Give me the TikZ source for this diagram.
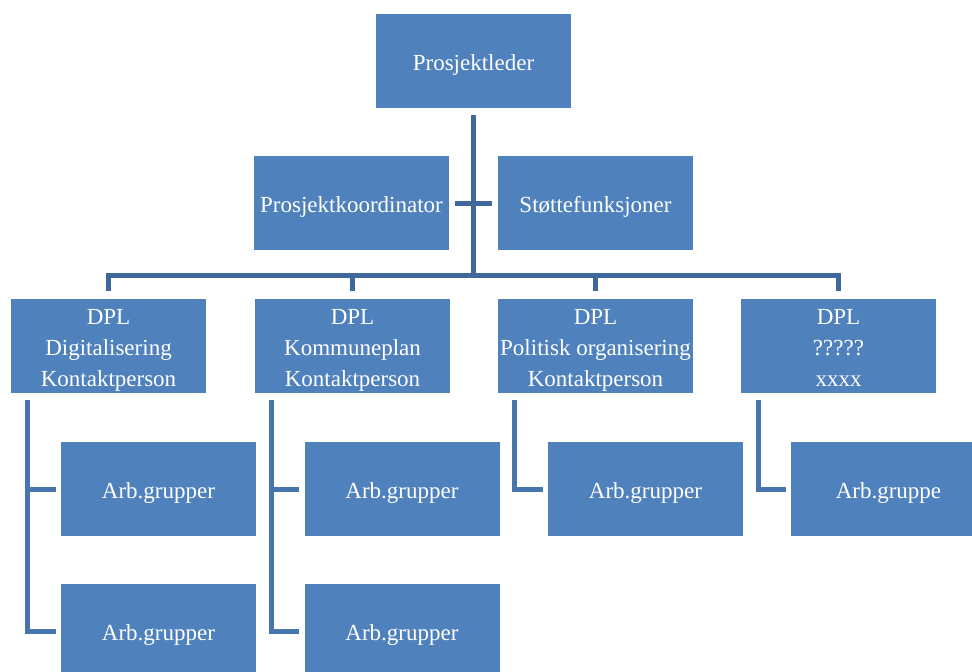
\documentclass[tikz,border=0pt]{standalone}
\usepackage{fontspec}
\setmainfont{Liberation Serif}
\definecolor{boxblue}{HTML}{4F81BD}
\definecolor{linkblue}{HTML}{3F689C}
\definecolor{subblue}{HTML}{4776AF}
% box text: centred lines, set slightly below the middle of the box
\newcommand\boxlines[1]{\raisebox{-3.5pt}[\height][\depth]{\begin{tabular}{@{}c@{}}#1\end{tabular}}}
\begin{document}
\begin{tikzpicture}[x=1pt,y=-1pt,
  orgbox/.style={fill=boxblue, draw=none, minimum width=195pt, minimum height=94pt,
    inner sep=0pt, text=white, font=\fontsize{23}{31}\selectfont},
  conn/.style={draw=linkblue, line width=5pt},
  subconn/.style={draw=subblue, line width=5pt}]
\useasboundingbox (0,0) rectangle (972,672);
\clip (0,0) rectangle (972,672);

% top level
\node[orgbox] (lead) at (473.5,60.5) {\boxlines{Prosjektleder}};
\node[orgbox] (koord) at (351.5,203) {\boxlines{Prosjektkoordinator}};
\node[orgbox] (stotte) at (595.5,203) {\boxlines{Støttefunksjoner}};

% sub-project leaders
\node[orgbox] (d1) at (108.5,346) {\boxlines{DPL\\Digitalisering\\Kontaktperson}};
\node[orgbox] (d2) at (352.5,346) {\boxlines{DPL\\Kommuneplan\\Kontaktperson}};
\node[orgbox] (d3) at (595.5,346) {\boxlines{DPL\\Politisk organisering\\Kontaktperson}};
\node[orgbox] (d4) at (838.5,346) {\boxlines{DPL\\?????\\xxxx}};

% working groups
\node[orgbox] (a1) at (158.5,489) {\boxlines{Arb.grupper}};
\node[orgbox] (b1) at (158.5,631) {\boxlines{Arb.grupper}};
\node[orgbox] (a2) at (402,489) {\boxlines{Arb.grupper}};
\node[orgbox] (b2) at (402,631) {\boxlines{Arb.grupper}};
\node[orgbox] (a3) at (645.5,489) {\boxlines{Arb.grupper}};
\node[orgbox] (a4) at (888.5,489) {\boxlines{Arb.gruppe}};

% trunk and bus
\coordinate (bus) at (473.5,275);
\draw[conn] ([yshift=-7pt]lead.south) -- (bus);
\draw[conn] ([xshift=6pt]koord.east) -- ([xshift=-6pt]stotte.west);
\draw[conn] ([yshift=8pt]d1.north) -- (d1.north |- bus) -- (d4.north |- bus) -- ([yshift=8pt]d4.north);
\draw[conn] ([yshift=8pt]d2.north) -- (d2.north |- bus);
\draw[conn] ([yshift=8pt]d3.north) -- (d3.north |- bus);

% branches to working groups
\draw[subconn] ([xshift=17pt,yshift=-7pt]d1.south west) |- ([xshift=-5pt]b1.west);
\draw[subconn] ([xshift=17pt]d1.south west |- a1.west) -- ([xshift=-5pt]a1.west);
\draw[subconn] ([xshift=17pt,yshift=-7pt]d2.south west) |- ([xshift=-5pt]b2.west);
\draw[subconn] ([xshift=17pt]d2.south west |- a2.west) -- ([xshift=-5pt]a2.west);
\draw[subconn] ([xshift=17pt,yshift=-7pt]d3.south west) |- ([xshift=-5pt]a3.west);
\draw[subconn] ([xshift=18pt,yshift=-7pt]d4.south west) |- ([xshift=-5pt]a4.west);
\end{tikzpicture}
\end{document}
